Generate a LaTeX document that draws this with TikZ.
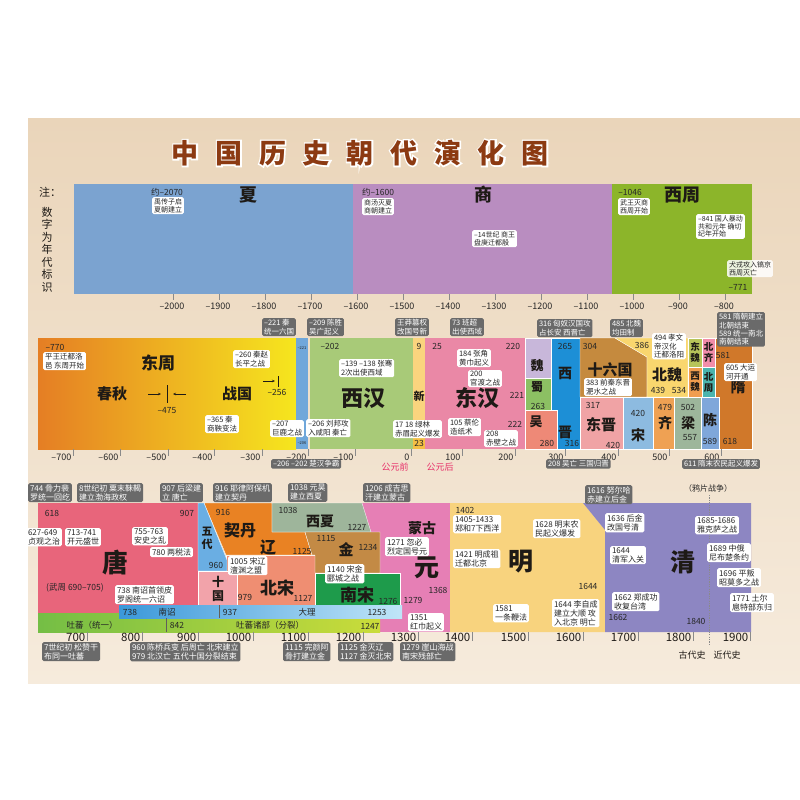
\documentclass[tikz,border=0pt]{standalone}
\usepackage{fontspec}
\setmainfont{Noto Sans CJK SC}
\newfontfamily\ttlfill{Noto Sans CJK SC}[LetterSpace=62]
\newfontfamily\ttlout{Noto Sans CJK SC}[LetterSpace=62, BoldFeatures={FakeBold=11}]
\usetikzlibrary{arrows.meta}
\definecolor{bgA}{HTML}{EAD5BA}
\definecolor{bgB}{HTML}{F6EBDC}
\definecolor{ttlc}{HTML}{8C3A12}
\definecolor{txt}{HTML}{262626}
\definecolor{dynt}{HTML}{1E1A16}
\definecolor{labg}{HTML}{6A6A6A}
\definecolor{tickc}{HTML}{8A8A8A}
\definecolor{cxia}{HTML}{7BA3D0}
\definecolor{cshang}{HTML}{B98DC0}
\definecolor{cxz}{HTML}{8CB52A}
\definecolor{cezL}{HTML}{E57E24}
\definecolor{cezR}{HTML}{F6E61E}
\definecolor{cqin}{HTML}{70A7DA}
\definecolor{cxh}{HTML}{A8CA78}
\definecolor{cxin}{HTML}{FAD47E}
\definecolor{cxinb}{HTML}{F5BF45}
\definecolor{cdh}{HTML}{EA88A6}
\definecolor{cwei}{HTML}{C8B7DA}
\definecolor{cshu}{HTML}{8CC063}
\definecolor{cwu}{HTML}{EE8977}
\definecolor{cxj}{HTML}{1D8FD6}
\definecolor{cslg}{HTML}{C58A3E}
\definecolor{cbw}{HTML}{F9D66E}
\definecolor{cdw}{HTML}{B7C45A}
\definecolor{cxw}{HTML}{F09D4F}
\definecolor{cbq}{HTML}{F28DAA}
\definecolor{cbz}{HTML}{4BB4AE}
\definecolor{csui}{HTML}{D0782A}
\definecolor{cdj}{HTML}{F0A3A5}
\definecolor{csong}{HTML}{8DBBE0}
\definecolor{cqi}{HTML}{EFA153}
\definecolor{cliang}{HTML}{9DB69B}
\definecolor{cchen}{HTML}{7FA7DA}
\definecolor{ctang}{HTML}{E8657B}
\definecolor{cwd}{HTML}{6AAEE3}
\definecolor{csg}{HTML}{F2A3AA}
\definecolor{cliao}{HTML}{E98223}
\definecolor{cxx}{HTML}{9EB59B}
\definecolor{cbs}{HTML}{EF8E72}
\definecolor{cjin}{HTML}{C38A45}
\definecolor{cns}{HTML}{1E9B4B}
\definecolor{cyuan}{HTML}{E67FB5}
\definecolor{cming}{HTML}{F8D37E}
\definecolor{cqing}{HTML}{8D86C2}
\definecolor{cndL}{HTML}{3B98DA}
\definecolor{cndR}{HTML}{C0E5F8}
\definecolor{ctbL}{HTML}{74BE45}
\definecolor{ctbR}{HTML}{CADC3A}
\definecolor{cred}{HTML}{E8306A}
\begin{document}
\begin{tikzpicture}[x=1pt,y=-1pt,
  wl/.style={fill=white, rounded corners=1.5pt, inner xsep=1.8pt, inner ysep=1.3pt, align=left, text=txt, anchor=north west},
  wA/.style={wl, font=\fontsize{7}{7.8}\selectfont},
  wB/.style={wl, font=\fontsize{7.5}{8.3}\selectfont},
  wC/.style={wl, font=\fontsize{8}{9}\selectfont},
  dl/.style={fill=labg, rounded corners=1.5pt, inner xsep=1.8pt, inner ysep=1.3pt, align=left, text=white, anchor=north west},
  dB/.style={dl, font=\fontsize{7.5}{8.3}\selectfont},
  dC/.style={dl, font=\fontsize{8}{9}\selectfont},
  yr/.style={inner sep=0, text=txt, font=\fontsize{8.5}{9}\selectfont},
  dyn/.style={inner sep=0, text=dynt, font=\bfseries\fontsize{#1}{#1}\selectfont},
  vdyn/.style={inner sep=0, text=dynt, align=center, font=\bfseries\fontsize{9.5}{11}\selectfont},
  tk/.style={draw=tickc, line width=0.6pt},
  axA/.style={inner sep=0, text=txt, font=\fontsize{9}{9}\selectfont},
  axC/.style={inner sep=0, text=dynt, font=\fontsize{11.5}{12}\selectfont},
  reg/.style={draw=white, line width=0.3pt}
]
\useasboundingbox (0,0) rectangle (800,800);
\fill[white] (0,0) rectangle (800,800);
\shade[top color=bgA, bottom color=bgB] (28,118) rectangle (800,683);

% ---------- title ----------
\node[inner sep=0, anchor=west, text=white, font=\ttlout\bfseries\fontsize{27}{27}\selectfont] (ttlo) at (171.5,153) {中国历史朝代演化图};
\node[inner sep=0, anchor=west, text=ttlc, font=\ttlfill\bfseries\fontsize{27}{27}\selectfont] (ttl) at (171.5,153) {中国历史朝代演化图};

% ---------- note ----------
\node[inner sep=0, text=dynt, font=\fontsize{11}{11}\selectfont] (zhu) at (50,192) {注：};
\node[inner sep=0, text=dynt, align=center, font=\fontsize{11}{12.5}\selectfont] (shuzi) at (47,249.5) {数\\字\\为\\年\\代\\标\\识};

% ---------- band 1 ----------
\fill[cxia] (74,184) rectangle (353,294);
\fill[cshang] (353,184) rectangle (612,294);
\fill[cxz] (612,184) rectangle (752,294);

\foreach \k in {0,...,12}{
  \pgfmathtruncatemacro\yv{2000-100*\k}
  \pgfmathsetmacro\xx{173+46*\k}
  \draw[tk] (\xx,294) -- (\xx,300);
  \node[axA] (ta\k) at (\xx-1,306) {–\yv};
}

\node[yr] (y2070) at (167,192) {约–2070};
\node[wA] (l2070) at (152,197) {禹传子启\\夏朝建立};
\node[dyn=18] (xia) at (248,195) {夏};
\node[yr] (y1600) at (378,192) {约–1600};
\node[wA] (l1600) at (362,198) {商汤灭夏\\商朝建立};
\node[dyn=18] (shang) at (483,195) {商};
\node[wA] (l14) at (472,230) {–14世纪 商王\\盘庚迁都殷};
\node[yr] (y1046) at (630,192) {–1046};
\node[wA] (l1046) at (618,198) {武王灭商\\西周开始};
\node[dyn=18] (xz) at (682,195) {西周};
\node[wA] (l841) at (696,214) {–841 国人暴动\\共和元年 确切\\纪年开始};
\node[wA, fill opacity=0.85, text opacity=1] (l771) at (727,260) {犬戎攻入镐京\\西周灭亡};
\node[yr] (y771) at (738,287) {–771};

% ---------- band 2 ----------
\shade[left color=cezL, right color=cezR] (38,338) rectangle (296,449);
\fill[cqin] (296,338) rectangle (308,449);
\fill[cxh] (309.5,338) rectangle (413,449);
\fill[cxin] (413,338) rectangle (425,449);
\fill[cxinb] (413,436) rectangle (425,449);
\fill[cdh] (425,338) rectangle (525,449);
\fill[cwei, reg] (525,338) rectangle (551,378);
\fill[cshu, reg] (525,378) rectangle (551,410);
\fill[cxj, reg] (551,338) rectangle (580,449);
\fill[cwu, reg] (525,410) rectangle (557,449);
\fill[cslg, reg] (580,338) -- (615,338) -- (647,357) -- (647,397) -- (580,397) -- cycle;
\fill[cbw, reg] (615,338) -- (688,338) -- (688,397) -- (647,397) -- (647,357) -- cycle;
\fill[cdw, reg] (688,338) rectangle (702,367);
\fill[cxw, reg] (688,367) rectangle (702,397);
\fill[cbq, reg] (702,338) rectangle (715,367);
\fill[cbz, reg] (702,367) rectangle (715,397);
\fill[csui, reg] (715,338) rectangle (752,449);
\fill[cdj, reg] (580,397) rectangle (623,449);
\fill[csong, reg] (623,397) rectangle (653,449);
\fill[cqi, reg] (653,397) rectangle (674,449);
\fill[cliang, reg] (674,397) rectangle (701,449);
\fill[cchen, reg] (701,397) rectangle (719,449);

\foreach \lab/\xx [count=\k] in {–700/73,–600/120,–500/168,–400/214,–300/262,–200/308,–100/355,0/411,100/462,200/515,300/565,400/618,500/669,600/721}{
  \draw[tk] (\xx,449) -- (\xx,456);
  \node[axA, anchor=east] (tb\k) at (\xx-1.5,457) {\lab};
}

\node[yr] (y770) at (55,347) {–770};
\node[wB] (l770) at (43,352) {平王迁都洛\\邑 东周开始};
\node[dyn=17] (dz) at (158,363) {东周};
\node[dyn=15] (cq) at (112,394) {春秋};
\coordinate (a1s) at (148,394); \coordinate (a1e) at (161,394);
\coordinate (a2s) at (186,394); \coordinate (a2e) at (173,394);
\coordinate (b1t) at (167,385); \coordinate (b1b) at (167,403);
\draw[dynt, line width=0.6pt, -{Stealth[length=3pt,width=2.5pt]}] (a1s) -- (a1e);
\draw[dynt, line width=0.6pt, -{Stealth[length=3pt,width=2.5pt]}] (a2s) -- (a2e);
\draw[dynt, line width=0.8pt] (b1t) -- (b1b);
\node[yr] (y475) at (167,411) {–475};
\node[dyn=15] (zg) at (237,394) {战国};
\node[wB] (l260) at (233,350) {–260 秦赵\\长平之战};
\coordinate (a3s) at (263,381); \coordinate (a3e) at (275,381);
\coordinate (b2t) at (278,376); \coordinate (b2b) at (278,387);
\draw[dynt, line width=0.6pt, -{Stealth[length=3pt,width=2.5pt]}] (a3s) -- (a3e);
\draw[dynt, line width=0.8pt] (b2t) -- (b2b);
\node[yr] (y256) at (277,392) {–256};
\node[wB] (l365) at (205,415) {–365 秦\\商鞅变法};
\node[wB] (l207) at (270,420) {–207\\巨鹿之战};
\node[inner sep=0, text=txt, font=\fontsize{4}{4}\selectfont] (y221s) at (302,348) {–221};
\node[inner sep=0, text=txt, font=\fontsize{4}{4}\selectfont] (y206s) at (302,443) {–206};
\node[yr] (y202) at (330,346) {–202};
\node[wB] (l139) at (339,359) {–139 –138 张骞\\2次出使西域};
\node[dyn=22] (xh) at (363,398) {西汉};
\node[wB] (l206) at (306,419) {–206 刘邦攻\\入咸阳 秦亡};
\node[yr] (y9) at (419,346) {9};
\node[dyn=11] (xin) at (419,396) {新};
\node[yr] (y23) at (419,443) {23};
\node[wB] (l17) at (393,420) {17 18 绿林\\赤眉起义爆发};
\node[yr] (y25) at (437,346) {25};
\node[yr] (y220) at (513,346) {220};
\node[wB] (l184) at (457,349) {184 张角\\黄巾起义};
\node[wB] (l200) at (468,370) {200\\官渡之战};
\node[dyn=22] (dh) at (477,398) {东汉};
\node[yr] (y221) at (517,395) {221};
\node[wB] (l105) at (448,418) {105 蔡伦\\造纸术};
\node[yr] (y222) at (515,424) {222};
\node[wB] (l208) at (484,430) {208\\赤壁之战};
\node[dyn=13] (wei) at (537,366) {魏};
\node[dyn=12] (shu) at (537,387) {蜀};
\node[yr] (y263) at (538,406) {263};
\node[dyn=13] (wu) at (536,422) {吴};
\node[yr] (y280) at (547,443) {280};
\node[yr] (y265) at (565,346) {265};
\node[dyn=14] (xjx) at (565,373) {西};
\node[dyn=14] (xjj) at (565,432) {晋};
\node[yr] (y316) at (572,443) {316};
\node[yr] (y304) at (590,346) {304};
\node[dyn=15] (slg) at (610,370) {十六国};
\node[wB] (l383) at (584,378) {383 前秦东晋\\淝水之战};
\node[yr] (y386) at (642,345) {386};
\node[wB] (l494) at (652,333) {494 孝文\\帝汉化\\迁都洛阳};
\node[dyn=15] (bw) at (667,375) {北魏};
\node[yr] (y439) at (658,390) {439};
\node[yr] (y534) at (679,390) {534};
\node[vdyn] (dw) at (695,352.5) {东\\魏};
\node[vdyn] (xw) at (695,382) {西\\魏};
\node[vdyn] (bq) at (708.5,352.5) {北\\齐};
\node[vdyn] (bz) at (708.5,382) {北\\周};
\node[yr] (y581) at (723,355) {581};
\node[dyn=15] (sui) at (738,387) {隋};
\node[yr] (y618) at (730,441) {618};
\node[wB] (l605) at (724,363) {605 大运\\河开通};
\node[yr] (y317) at (593,405) {317};
\node[dyn=15] (dj) at (601,425) {东晋};
\node[yr] (y420a) at (613,445) {420};
\node[yr] (y420b) at (638,413) {420};
\node[dyn=14] (song) at (638,435) {宋};
\node[yr] (y479) at (665,407) {479};
\node[dyn=14] (qi) at (665,423) {齐};
\node[yr] (y502) at (688,407) {502};
\node[dyn=14] (liang) at (688,423) {梁};
\node[yr] (y557) at (690,438) {557};
\node[dyn=14] (chen) at (710,420) {陈};
\node[yr] (y589) at (710,441) {589};

\node[dB] (d221) at (262,318) {–221 秦\\统一六国};
\node[dB] (d209) at (307,318) {–209 陈胜\\吴广起义};
\node[dB] (dwm) at (395,318) {王莽篡权\\改国号新};
\node[dB] (d73) at (450,318) {73 班超\\出使西域};
\node[dB] (d316) at (537,319) {316 匈奴汉国攻\\占长安 西晋亡};
\node[dB] (d485) at (610,319) {485 北魏\\均田制};
\node[dB] (d581) at (717,312) {581 隋朝建立\\北朝结束\\589 统一南北\\南朝结束};
\node[dB] (dch) at (271,459) {–206 –202 楚汉争霸};
\node[dB] (dwu) at (546,459) {208 吴亡 三国归晋};
\node[dB] (d611) at (682,459) {611 隋末农民起义爆发};
\node[inner sep=0, text=cred, font=\fontsize{9}{9}\selectfont] (gyq) at (395,467) {公元前};
\node[inner sep=0, text=cred, font=\fontsize{9}{9}\selectfont] (gyh) at (440,467) {公元后};

% ---------- band 3 ----------
\fill[cyuan] (362,503) rectangle (450,632);
\fill[ctang] (38,503) rectangle (198,613);
\fill[cbs, reg] (226,555) rectangle (315,605);
\fill[cliao, reg] (204,503) -- (272,503) -- (272,532) -- (305,532) -- (312,555) -- (226,555) -- cycle;
\fill[cwd, reg] (198,503) -- (204,503) -- (227,560) -- (227,571) -- (198,571) -- cycle;
\fill[csg, reg] (198,571) rectangle (237,605);
\fill[cxx, reg] (272,503) -- (362,503) -- (371,532) -- (272,532) -- cycle;
\fill[cjin, reg] (305,532) -- (380,532) -- (380,573) -- (315,573) -- (315,555) -- (312,555) -- cycle;
\fill[cns, reg] (315,573) rectangle (400,612);
\shade[left color=ctbL, right color=ctbR] (38,613) rectangle (380,632);
\shade[left color=cndL, right color=cndR] (119,605) rectangle (402,618);
\draw[dynt!70, line width=0.8pt] (166,618) -- (166,632);
\draw[dynt!70, line width=0.8pt] (219,605) -- (219,618);
\fill[cming] (450,503) -- (583,503) -- (605,530) -- (605,632) -- (450,632) -- cycle;
\fill[cqing] (583,503) -- (751,503) -- (751,632) -- (605,632) -- (605,530) -- cycle;

\foreach \lab/\xx [count=\k] in {700/87,800/142,900/198,1000/253,1100/308,1200/363,1300/418,1400/472,1500/528,1600/583,1700/638,1800/693,1900/750}{
  \draw[tk] (\xx,632) -- (\xx,641);
  \node[axC, anchor=east] (tc\k) at (\xx-1.5,637) {\lab};
}

\node[yr] (y618b) at (52,513) {618};
\node[yr] (y907) at (187,513) {907};
\node[wC] (l627) at (26,528) {627-649\\贞观之治};
\node[wC] (l713) at (65,528) {713-741\\开元盛世};
\node[wC] (l755) at (132,527) {755-763\\安史之乱};
\node[wC] (l780) at (150,547) {780 两税法};
\node[dyn=26] (tang) at (115,563) {唐};
\node[yr] (wz) at (75,588) {(武周 690–705)};
\node[wC] (l738) at (115,585) {738 南诏首领皮\\罗阁统一六诏};
\node[vdyn, font=\bfseries\fontsize{11}{13}\selectfont] (wd) at (207,538.5) {五\\代};
\node[yr] (y960) at (216,565) {960};
\node[vdyn, font=\bfseries\fontsize{12}{14}\selectfont] (sg) at (218,588.5) {十\\国};
\node[yr] (y916) at (223,512) {916};
\node[dyn=16] (qd) at (240,530) {契丹};
\node[dyn=16] (liao) at (268,548) {辽};
\node[yr] (y1125) at (302,551) {1125};
\node[wC] (l1005) at (228,556) {1005 宋辽\\澶渊之盟};
\node[yr] (y979) at (245,597) {979};
\node[dyn=17] (bs) at (277,588) {北宋};
\node[yr] (y1127) at (303,598) {1127};
\node[yr] (y1038) at (288,510) {1038};
\node[dyn=14] (xx) at (320,521) {西夏};
\node[yr] (y1227) at (357,527) {1227};
\node[yr] (y1115) at (326,539) {1115};
\node[dyn=15] (jin) at (346,550) {金};
\node[yr] (y1234) at (368,547) {1234};
\node[wC] (l1140) at (325,564) {1140 宋金\\郾城之战};
\node[dyn=17] (ns) at (357,595) {南宋};
\node[yr] (y1276) at (388,601) {1276};
\node[dyn=14] (mg) at (422,528) {蒙古};
\node[dyn=25] (yuan) at (427,568) {元};
\node[yr] (y1279) at (413,600) {1279};
\node[yr] (y1368) at (438,590) {1368};
\node[wC] (l1271) at (385,537) {1271 忽必\\烈定国号元};
\node[wC] (l1351) at (408,613) {1351\\红巾起义};
\node[yr] (y738) at (130,612) {738};
\node[yr] (nz) at (167,612) {南诏};
\node[yr] (y937) at (230,612) {937};
\node[yr] (dali) at (307,612.5) {大理};
\node[yr] (y1253) at (377,612.5) {1253};
\node[yr] (tb1) at (92,625) {吐蕃（统一）};
\node[yr] (y842) at (177,625) {842};
\node[yr] (tb2) at (270,625) {吐蕃诸部（分裂）};
\node[yr] (y1247) at (370,626.5) {1247};
\node[yr] (y1402) at (465,510) {1402};
\node[wC] (l1405) at (453,515) {1405-1433\\郑和7下西洋};
\node[wC] (l1421) at (453,549) {1421 明成祖\\迁都北京};
\node[dyn=25] (ming) at (521,562) {明};
\node[wC] (l1581) at (493,604) {1581\\一条鞭法};
\node[wC] (l1628) at (533,519) {1628 明末农\\民起义爆发};
\node[yr] (y1644) at (588,586) {1644};
\node[wC] (l1644a) at (552,599) {1644 李自成\\建立大顺 攻\\入北京 明亡};
\node[wC] (l1636) at (605,513) {1636 后金\\改国号清};
\node[wC] (l1644b) at (610,546) {1644\\清军入关};
\node[dyn=25] (qing) at (683,562) {清};
\node[wC] (l1662) at (612,592) {1662 郑成功\\收复台湾};
\node[yr] (y1662) at (618,617) {1662};
\node[yr] (y1840) at (696,621) {1840};
\coordinate (vt) at (709,495); \coordinate (vb) at (709,645);
\draw[tickc, line width=0.6pt, dash pattern=on 1.2pt off 1.2pt] (vt) -- (vb);
\node[wC] (l1685) at (695,516) {1685-1686\\雅克萨之战};
\node[wC] (l1689) at (707,543) {1689 中俄\\尼布楚条约};
\node[wC] (l1696) at (717,568) {1696 平叛\\昭莫多之战};
\node[wC] (l1771) at (730,593) {1771 土尔\\扈特部东归};

\node[dC] (d744) at (28,483) {744 骨力裴\\罗统一回纥};
\node[dC] (d8) at (77,483) {8世纪初 粟末靺鞨\\建立渤海政权};
\node[dC] (d907) at (160,483) {907 后梁建\\立 唐亡};
\node[dC] (d916) at (213,483) {916 耶律阿保机\\建立契丹};
\node[dC] (d1038) at (288,483) {1038 元昊\\建立西夏};
\node[dC] (d1206) at (363,483) {1206 成吉思\\汗建立蒙古};
\node[dC] (d1616) at (585,485) {1616 努尔哈\\赤建立后金};
\node[inner sep=0, text=txt, font=\fontsize{8}{8}\selectfont] (yp) at (708,488) {（鸦片战争）};
\node[dC] (d7) at (42,642) {7世纪初 松赞干\\布同一吐蕃};
\node[dC] (d960) at (130,642) {960 陈桥兵变 后周亡 北宋建立\\979 北汉亡 五代十国分裂结束};
\node[dC] (d1115) at (283,642) {1115 完颜阿\\骨打建立金};
\node[dC] (d1125) at (338,642) {1125 金灭辽\\1127 金灭北宋};
\node[dC] (d1279) at (400,642) {1279 崖山海战\\南宋残部亡};
\node[inner sep=0, text=dynt, font=\fontsize{9}{9}\selectfont] (gds) at (692,655) {古代史};
\node[inner sep=0, text=dynt, font=\fontsize{9}{9}\selectfont] (jds) at (727,655) {近代史};
\end{tikzpicture}
\end{document}
